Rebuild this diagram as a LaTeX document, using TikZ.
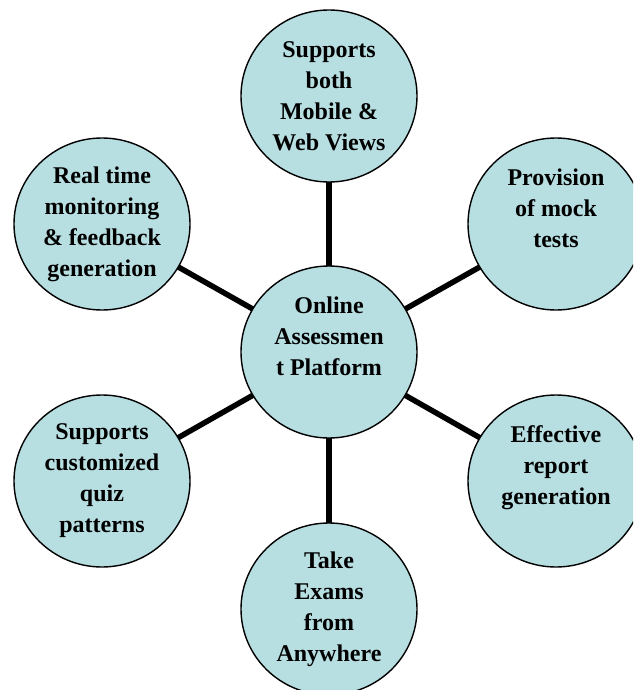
\documentclass[tikz,border=0pt]{standalone}
\usepackage{fontspec}
\setmainfont{Liberation Serif}
\usetikzlibrary{shapes.geometric}

\definecolor{bubblefill}{HTML}{B7DEE1}

\begin{document}
\begin{tikzpicture}[
      x=1pt, y=-1pt,
      bubble/.style={ellipse, draw, line width=1.4pt, fill=bubblefill, align=center, inner sep=0pt, outer sep=0pt,
        font=\fontsize{24}{31}\selectfont\bfseries, minimum width=176pt, minimum height=172pt},
      link/.style={line width=5.5pt}
    ]
    \useasboundingbox (0,0) rectangle (633,690);
    \clip (0,0) rectangle (633,690);
    \node[bubble] (hub) at (329,352) {Online\\Assessmen\\t Platform\\\mbox{}};
    \node[bubble] (views) at (329,96) {Supports\\both\\Mobile \&\\Web Views};
    \node[bubble] (monitor) at (102,224) {Real time\\monitoring\\\& feedback\\generation};
    \node[bubble] (mock) at (556,224) {Provision\\of mock\\tests\\\mbox{}};
    \node[bubble] (quiz) at (102,481) {Supports\\customized\\quiz\\patterns};
    \node[bubble] (report) at (556,481) {Effective\\report\\generation\\\mbox{}};
    \node[bubble] (anywhere) at (329,609) {Take\\Exams\\from\\Anywhere};
    \draw[link] (hub) -- (views); \draw[link] (hub) -- (mock); \draw[link] (hub) -- (report);
    \draw[link] (hub) -- (anywhere); \draw[link] (hub) -- (quiz); \draw[link] (hub) -- (monitor);
  \end{tikzpicture}
\end{document}
